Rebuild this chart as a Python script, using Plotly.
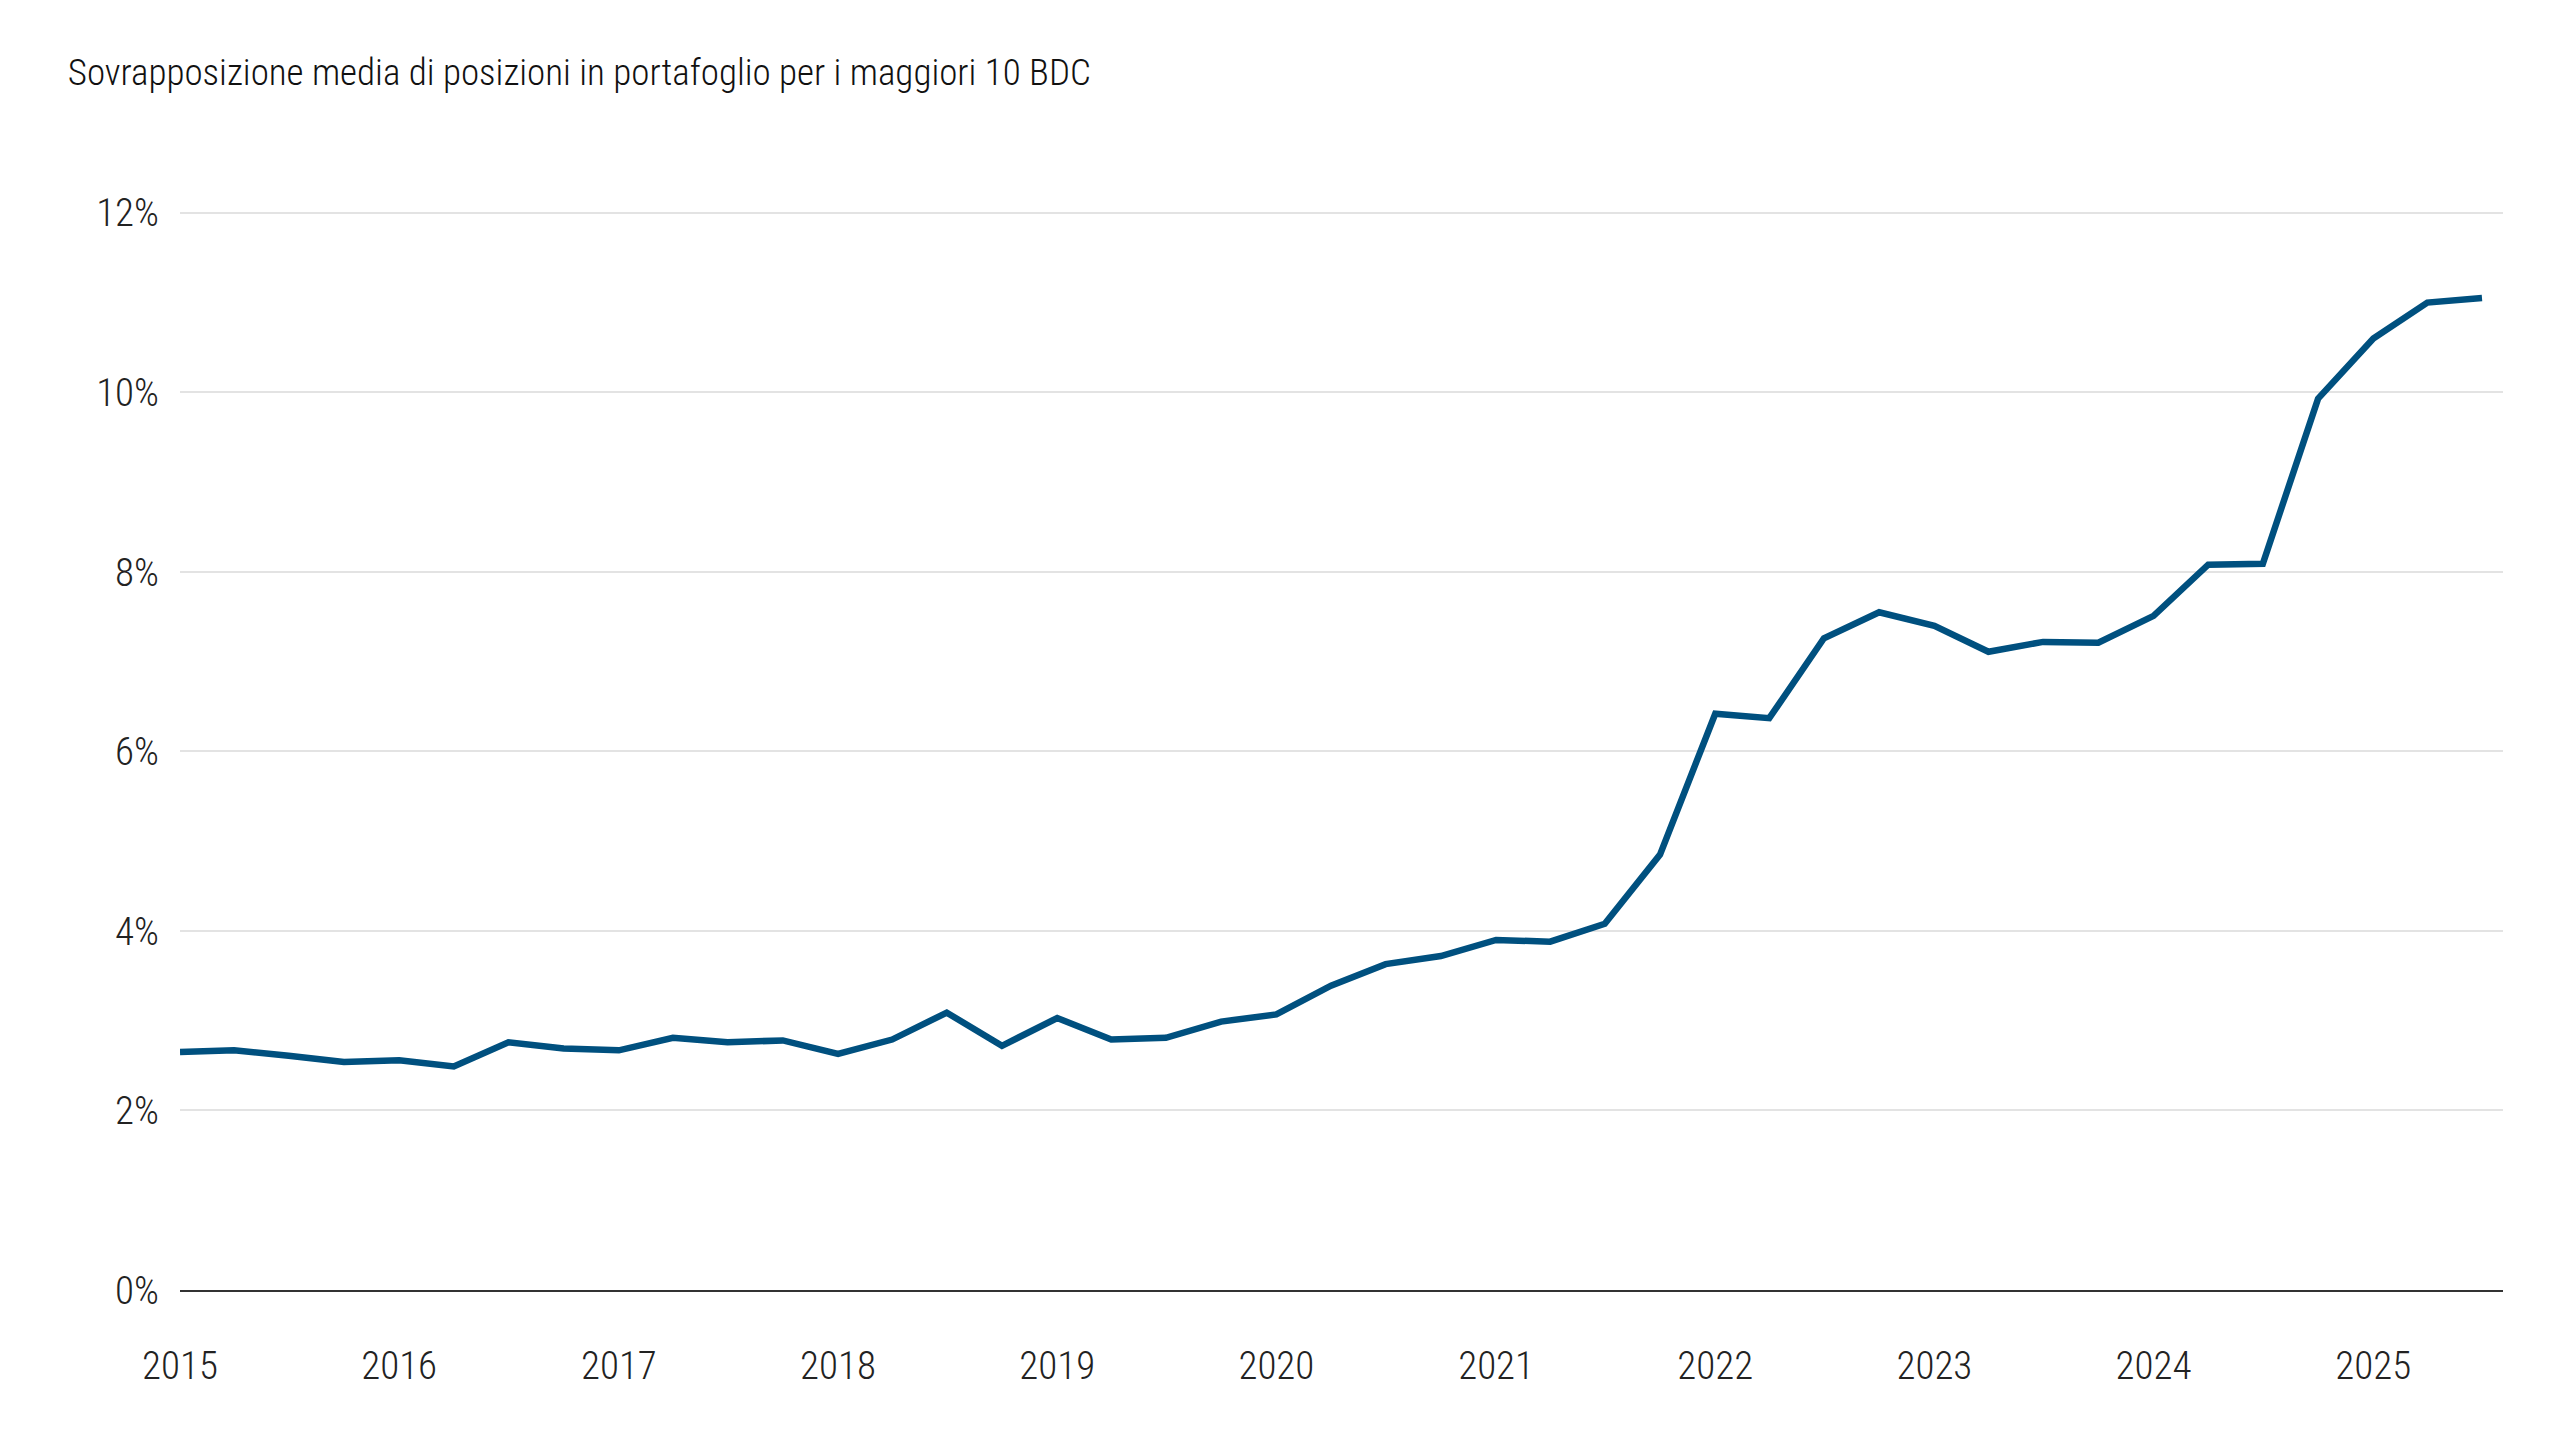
import pandas as pd
import plotly.graph_objects as go

# quarterly observations, 2015 Q1 .. 2025 Q3
dates = pd.date_range("2015-01-01", periods=43, freq="QS")
overlap_pct = [
    2.65, 2.67, 2.61, 2.54, 2.56, 2.49, 2.76, 2.69, 2.67, 2.81,
    2.76, 2.78, 2.63, 2.79, 3.09, 2.72, 3.03, 2.79, 2.81, 2.99,
    3.07, 3.39, 3.63, 3.72, 3.90, 3.88, 4.08, 4.85, 6.42, 6.37,
    7.26, 7.55, 7.40, 7.11, 7.22, 7.21, 7.51, 8.08, 8.09, 9.93,
    10.60, 11.00, 11.05,
]
y_ticks = [0, 2, 4, 6, 8, 10, 12]
y_labels = [f"{v}%" for v in y_ticks]
x_ticks = pd.date_range("2015-01-01", "2025-01-01", freq="YS")

font = "Roboto Condensed, Roboto, Liberation Sans Narrow, sans-serif"

fig = go.Figure(go.Scatter(
    x=dates, y=overlap_pct, mode="lines",
    line=dict(color="#00507f", width=6.5),
    hoverinfo="x+y",
))

fig.update_layout(
    title=dict(text="Sovrapposizione media di posizioni in portafoglio per i maggiori 10 BDC",
               x=0.0235, xanchor="left", y=0.955, yanchor="middle",
               font=dict(family=font, size=37, color="#111")),
    plot_bgcolor="white", paper_bgcolor="white",
    margin=dict(l=172, r=49, t=203, b=142),
    showlegend=False,
    font=dict(family=font, size=39, color="#222", weight=300),
)
fig.update_xaxes(
    range=[pd.Timestamp("2015-01-01"), pd.Timestamp("2025-08-05")],
    tickvals=x_ticks, ticktext=[str(d.year) for d in x_ticks],
    showgrid=False, showline=True, linecolor="#333", linewidth=1.5,
    ticks="", ticklabelstandoff=40,
)
fig.update_yaxes(
    range=[0, 12.02], tickvals=y_ticks, ticktext=y_labels,
    showgrid=True, gridcolor="#e3e3e3", gridwidth=1.5,
    zeroline=False, ticks="", ticklabelstandoff=20,
)

fig.write_html("out.html")
